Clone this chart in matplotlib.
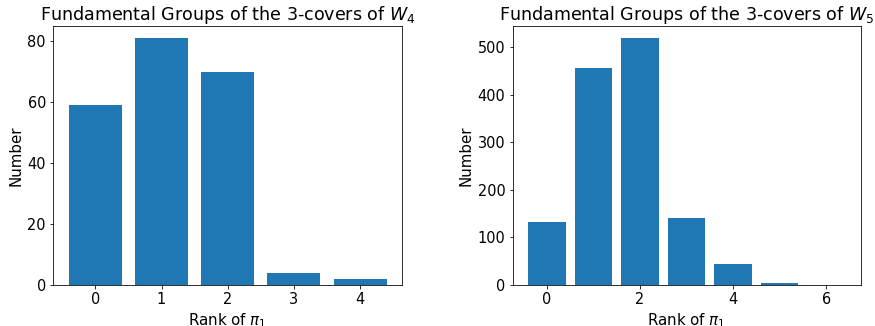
import matplotlib
matplotlib.use("Agg")
import matplotlib.pyplot as plt

ranks_w4 = [0, 1, 2, 3, 4]
counts_w4 = [59, 81, 70, 4, 2]

ranks_w5 = [0, 1, 2, 3, 4, 5, 6]
counts_w5 = [133, 455, 518, 140, 45, 5, 1]

W, H = 875, 326
fig = plt.figure(figsize=(W / 72, H / 72), dpi=72)
ax1 = fig.add_axes([53 / W, 1 - 285 / H, 349.5 / W, 259 / H])
ax2 = fig.add_axes([512.5 / W, 1 - 285 / H, 348 / W, 259 / H])

for ax, ranks, counts, sub in [
    (ax1, ranks_w4, counts_w4, "4"),
    (ax2, ranks_w5, counts_w5, "5"),
]:
    ax.bar(ranks, counts, color="#1f77b4")
    ax.set_title(f"Fundamental Groups of the 3-covers of $W_{sub}$", fontsize=17.5)
    ax.set_xlabel(r"Rank of $\pi_1$", fontsize=15)
    ax.set_ylabel("Number", fontsize=15)
    ax.tick_params(labelsize=14.5)

ax1.set_yticks([0, 20, 40, 60, 80])
ax2.set_xticks([0, 2, 4, 6])

fig.savefig("out.png", dpi=72)
